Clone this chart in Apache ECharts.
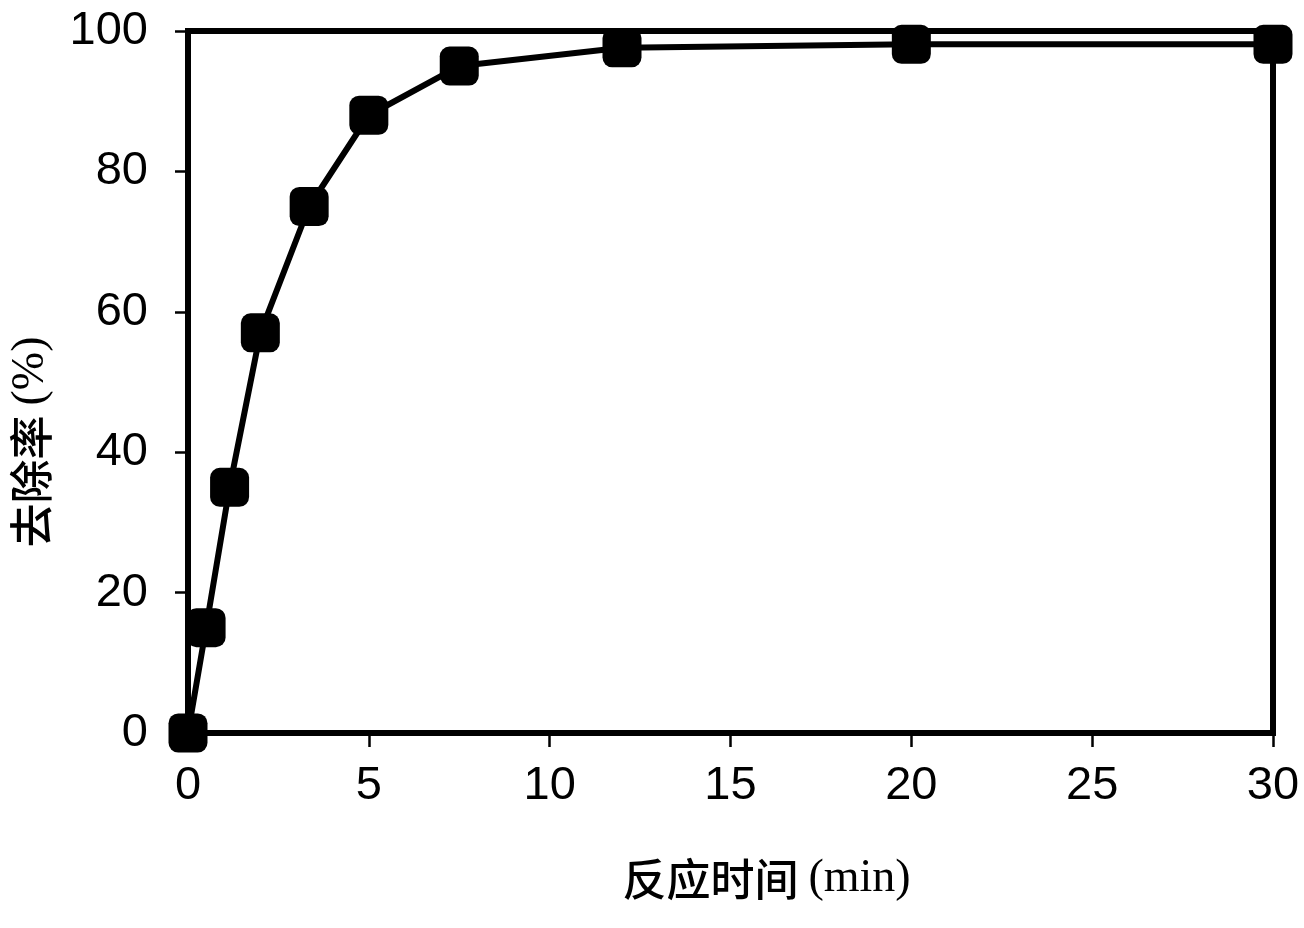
<!DOCTYPE html>
<html>
<head>
<meta charset="utf-8">
<script src="https://cdn.jsdelivr.net/npm/echarts@6/dist/echarts.min.js"></script>
<style>html,body{margin:0;padding:0;background:#fff;}#c{width:1304px;height:928px;}</style>
</head>
<body>
<div id="c"></div>
<script>
const timeMin = [0, 0.5, 1.15, 2, 3.35, 5, 7.5, 12, 20, 30];
const removalPct = [0, 15, 35, 57, 75, 88, 95, 97.6, 98.1, 98.1];
const xTicks = [0, 5, 10, 15, 20, 25, 30];
const yTicks = [0, 20, 40, 60, 80, 100];
const xTitleCn = '反应时间';
const xTitleUnit = '(min)';
const yTitleCn = '去除率';
const yTitleUnit = '(%)';

const chart = echarts.init(document.getElementById('c'));
const data = timeMin.map((t, i) => [t, removalPct[i]]);
const labelFont = {color: '#000', fontFamily: 'Liberation Sans, Arial, sans-serif', fontSize: 47};
const titleRich = {
  a: {fontFamily: 'Noto Sans CJK SC', fontWeight: 500, fontSize: 44, color: '#000'},
  s: {width: 10},
  b: {fontFamily: 'Liberation Serif, serif', fontSize: 46, color: '#000'}
};
chart.setOption({
  animation: false,
  backgroundColor: '#fff',
  grid: {left: 188, right: 31, top: 31, bottom: 195, show: true, borderColor: '#000', borderWidth: 6,
         backgroundColor: 'transparent', containLabel: false, outerBoundsMode: 'none'},
  xAxis: {
    type: 'value', min: xTicks[0], max: xTicks[xTicks.length - 1], interval: 5,
    axisLine: {show: true, lineStyle: {color: '#000', width: 6}},
    axisTick: {show: true, length: 14, lineStyle: {color: '#000', width: 2.5}},
    axisLabel: Object.assign({margin: 30}, labelFont),
    splitLine: {show: false},
    name: '{a|' + xTitleCn + '}{s|}{b|' + xTitleUnit + '}',
    nameLocation: 'middle', nameGap: 123,
    nameTextStyle: {rich: titleRich, padding: [0, 0, 0, 72]}
  },
  yAxis: {
    type: 'value', min: yTicks[0], max: yTicks[yTicks.length - 1], interval: 20,
    axisLine: {show: true, lineStyle: {color: '#000', width: 6}},
    axisTick: {show: true, length: 13, lineStyle: {color: '#000', width: 2.5}},
    axisLabel: Object.assign({margin: 40}, labelFont),
    splitLine: {show: false},
    name: '{a|' + yTitleCn + '}{s|}{b|' + yTitleUnit + '}',
    nameLocation: 'middle', nameGap: 134, nameRotate: 90,
    nameTextStyle: {rich: titleRich, padding: [0, 120, 0, 0]}
  },
  series: [{
    type: 'line', data: data, clip: false,
    symbol: 'roundRect', symbolSize: 39,
    lineStyle: {color: '#000', width: 6},
    itemStyle: {color: '#000', borderWidth: 0}
  }]
});
</script>
</body>
</html>
